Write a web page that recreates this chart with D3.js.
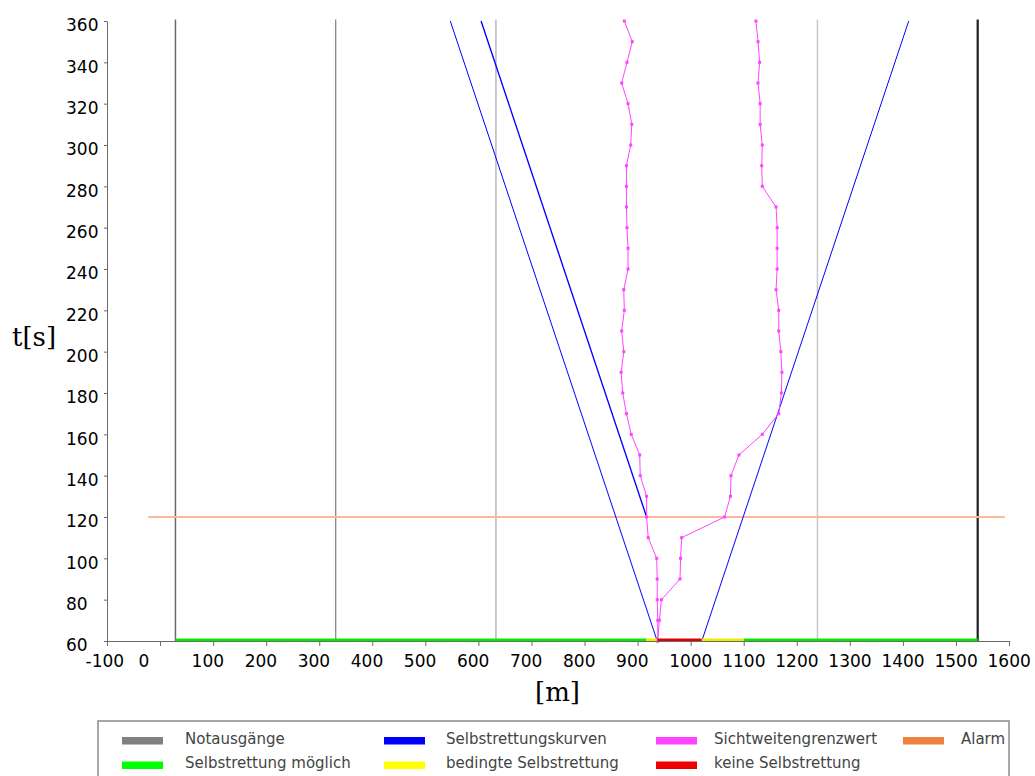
<!DOCTYPE html>
<html>
<head>
<meta charset="utf-8">
<script src="https://cdn.jsdelivr.net/npm/d3@7"></script>
<style>
  body { margin: 0; background: #fff; }
  svg { display: block; }
  .tick text { font-family: "DejaVu Sans", sans-serif; font-size: 17px; fill: #000; }
  .legendText { font-family: "DejaVu Sans", sans-serif; font-size: 15px; fill: #444; }
  .aText { font-family: "DejaVu Serif", serif; font-size: 26px; fill: #000; }
</style>
</head>
<body>
<div id="chart"></div>
<script>
// time axis (s) for the visibility limit series, one point every 10 s
var times = [60, 70, 80, 90, 100, 110, 120, 130, 140, 150, 160, 170, 180, 190, 200, 210,
             220, 230, 240, 250, 260, 270, 280, 290, 300, 310, 320, 330, 340, 350, 360];

// Sichtweitengrenzwert, left and right front (m)
var sichtLeft = [938, 938, 937, 937, 936, 920, 917, 917, 905, 904, 888, 879, 872, 869, 874, 870,
                 875, 874, 882, 882, 880, 879, 879, 879, 887, 889, 882, 870, 880, 890, 875];
var sichtRight = [938, 941, 945, 980, 981, 983, 1064, 1075, 1076, 1091, 1135, 1166, 1171, 1172, 1170, 1166,
                  1166, 1161, 1163, 1163, 1163, 1161, 1135, 1134, 1135, 1131, 1131, 1127, 1130, 1127, 1123];

// emergency exits (m)
var exits = [29, 331, 633, 1239, 1541];

// self rescue curves: start position, start time, end position, end time
var curveX0 = [937, 917, 1021];
var curveT0 = [60, 120, 60];
var curveX1 = [547, 605, 1411];
var curveT1 = [360, 360, 360];

// status along the tunnel at t = 60
var segStart = [29, 917, 937, 1021, 1100];
var segEnd = [917, 937, 1021, 1100, 1541];
var segStatus = ["moeglich", "bedingt", "keine", "bedingt", "moeglich"];

// alarm time (s) and extent of its line (m)
var alarmTime = 120;
var alarmFrom = -22;
var alarmTo = 1592;

var xTicks = d3.range(-100, 1601, 100);
var yTicks = d3.range(60, 361, 20);

var legendLabels = ["Notausgänge", "Selbstrettungskurven", "Sichtweitengrenzwert", "Alarm",
                    "Selbstrettung möglich", "bedingte Selbstrettung", "keine Selbstrettung"];

// styles
var statusColor = { moeglich: "#00ee00", bedingt: "#eeee00", keine: "#dd0000" };
var exitColor = ["#6a6a6a", "#8a8a8a", "#b8b8b8", "#c8c8c8", "#1e1e1e"];
var exitWidth = [1.5, 1.3, 1.5, 1.5, 2.2];
var legendColor = ["#808080", "#0000ff", "#ff44ff", "#f08040", "#00ff00", "#ffff00", "#ee0000"];
var legendX = [122, 384, 656, 903, 122, 384, 656];
var legendTextX = [185, 446, 714, 961, 185, 446, 714];
var legendRow = [0, 0, 0, 0, 1, 1, 1];

var svgWidth = 1035;
var svgHeight = 776;

var margin = { top: 21, right: 26, bottom: 135, left: 107 };
var width = 1009 - margin.left;
var height = 641 - margin.top;

var svg = d3.select("#chart")
    .append("svg")
    .attr("width", svgWidth)
    .attr("height", svgHeight);

var chartGroup = svg.append("g")
    .attr("transform", `translate(${margin.left}, ${margin.top})`);

var xScale = d3.scaleLinear().domain([-100, 1600]).range([0, width]);
var yScale = d3.scaleLinear().domain([60, 360]).range([height, 0]);

// exits
chartGroup.append("g")
    .selectAll("line")
    .data(exits)
    .enter()
    .append("line")
    .attr("x1", d => xScale(d))
    .attr("x2", d => xScale(d))
    .attr("y1", yScale(360) - 1.5)
    .attr("y2", yScale(60))
    .attr("stroke", (d, i) => exitColor[i])
    .attr("stroke-width", (d, i) => exitWidth[i]);

// alarm line
chartGroup.append("line")
    .attr("x1", xScale(alarmFrom))
    .attr("x2", xScale(alarmTo))
    .attr("y1", yScale(alarmTime))
    .attr("y2", yScale(alarmTime))
    .attr("stroke", "#fbb898")
    .attr("stroke-width", 1.8);

// self rescue curves
chartGroup.append("g")
    .selectAll("line")
    .data(curveX0)
    .enter()
    .append("line")
    .attr("x1", (d, i) => xScale(curveX0[i]))
    .attr("y1", (d, i) => yScale(curveT0[i]))
    .attr("x2", (d, i) => xScale(curveX1[i]))
    .attr("y2", (d, i) => yScale(curveT1[i]))
    .attr("stroke", "#0000ff")
    .attr("stroke-width", (d, i) => i == 1 ? 1.35 : 1);

// visibility limit series
var lineGen = d3.line()
    .x(d => xScale(d[0]))
    .y(d => yScale(d[1]));

[sichtLeft, sichtRight].forEach(function(series) {
    var pts = series.map((v, i) => [v, times[i]]);
    chartGroup.append("path")
        .datum(pts)
        .attr("d", lineGen)
        .attr("fill", "none")
        .attr("stroke", "#ff44ff")
        .attr("stroke-width", 1);
    chartGroup.append("g")
        .selectAll("rect")
        .data(pts)
        .enter()
        .append("rect")
        .attr("x", d => xScale(d[0]) - 1.5)
        .attr("y", d => yScale(d[1]) - 1.5)
        .attr("width", 3)
        .attr("height", 3)
        .attr("fill", "#ff44ff");
});

// status bar along the tunnel
chartGroup.append("g")
    .selectAll("rect")
    .data(segStart)
    .enter()
    .append("rect")
    .attr("x", (d, i) => xScale(segStart[i]))
    .attr("width", (d, i) => xScale(segEnd[i]) - xScale(segStart[i]))
    .attr("y", yScale(60) - 2.5)
    .attr("height", 2.5)
    .attr("fill", (d, i) => statusColor[segStatus[i]]);

// axes
var bottomAxis = d3.axisBottom(xScale).tickValues(xTicks).tickSize(5).tickSizeOuter(0)
    .tickFormat(d => String(d));
var leftAxis = d3.axisLeft(yScale).tickValues(yTicks).tickSize(3).tickSizeOuter(0)
    .tickFormat(d => String(d));

var xAxisG = chartGroup.append("g")
    .attr("transform", `translate(0, ${height})`)
    .call(bottomAxis);
xAxisG.selectAll(".tick text")
    .attr("text-anchor", "start")
    .attr("x", -22)
    .attr("y", 14);

var yAxisG = chartGroup.append("g")
    .call(leftAxis);
yAxisG.selectAll(".tick text")
    .attr("text-anchor", "start")
    .attr("x", -41)
    .attr("dy", "0.58em");

chartGroup.selectAll(".domain").attr("stroke", "#6a6a6a");
chartGroup.selectAll(".tick line").attr("stroke", "#6a6a6a");

// axis labels
svg.append("text")
    .attr("class", "aText")
    .attr("x", 12)
    .attr("y", 346)
    .text("t[s]");

svg.append("text")
    .attr("class", "aText")
    .attr("x", 535)
    .attr("y", 701)
    .text("[m]");

// legend
svg.append("rect")
    .attr("x", 98)
    .attr("y", 721)
    .attr("width", 911)
    .attr("height", 70)
    .attr("fill", "none")
    .attr("stroke", "#8a8a8a")
    .attr("stroke-width", 1.5);

var legendGroup = svg.append("g");
legendLabels.forEach(function(label, i) {
    var ly = 737 + legendRow[i] * 24.5;
    legendGroup.append("rect")
        .attr("x", legendX[i])
        .attr("y", ly)
        .attr("width", 41)
        .attr("height", 7.5)
        .attr("fill", legendColor[i]);
    legendGroup.append("text")
        .attr("class", "legendText")
        .attr("x", legendTextX[i])
        .attr("y", ly + 6.5)
        .text(label);
});
</script>
</body>
</html>
